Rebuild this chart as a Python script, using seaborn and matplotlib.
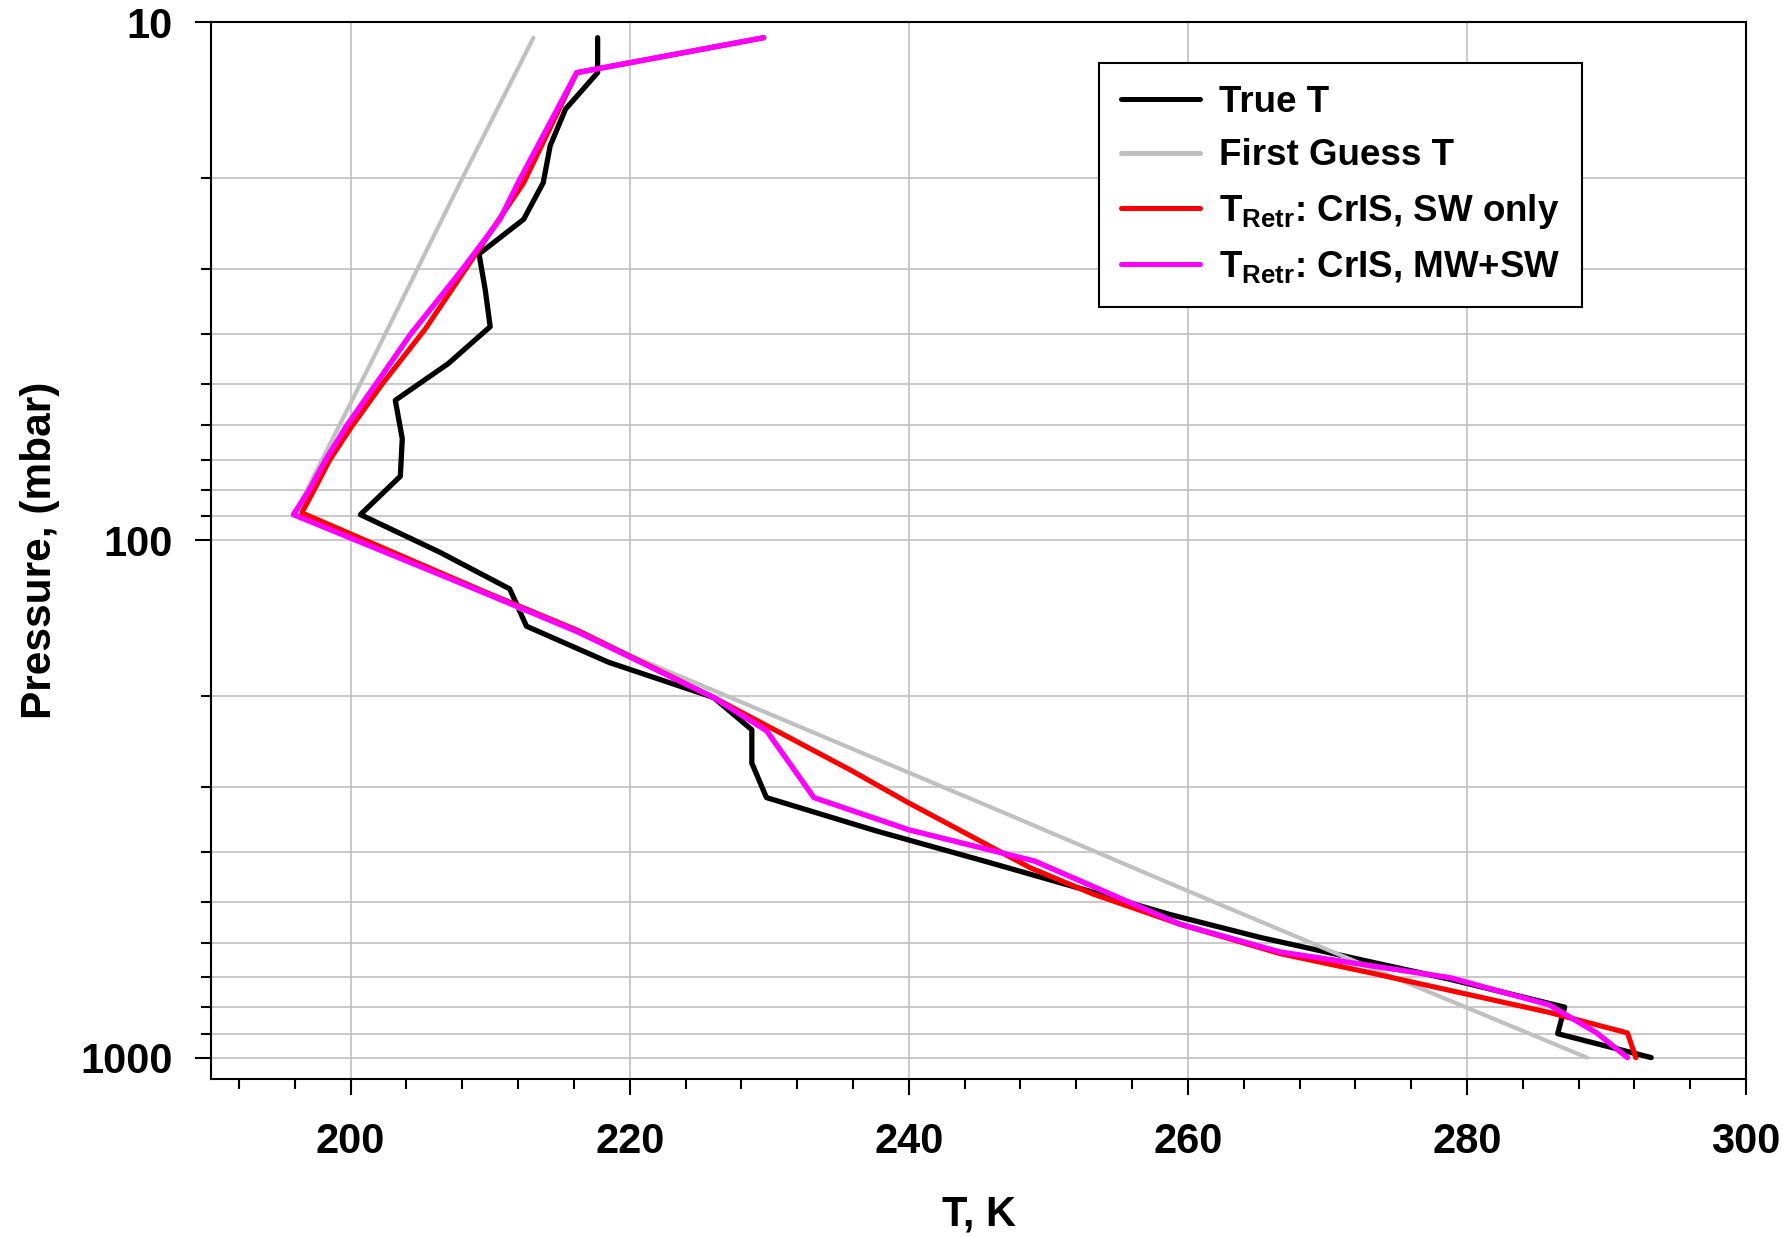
"""Temperature profile retrieval comparison: true, first guess and CrIS retrievals."""

import matplotlib
matplotlib.use("Agg")
import matplotlib.pyplot as plt
import seaborn as sns
from matplotlib.ticker import FixedLocator, NullFormatter


# True temperature profile
TRUE_P = [10.7, 12.5, 14.7, 17.3, 20.4, 24.0, 28.0, 32.9, 38.7, 45.6, 53.7, 63.7, 75.3, 89.3,
          105.6, 124.3, 146.7, 172.3, 201.4, 232.6, 269.8, 314.5, 365.0, 420.0, 473.0, 529.0,
          586.0, 655.0, 706.0, 799.0, 899.0, 1000.0]
TRUE_T = [217.7, 217.7, 215.4, 214.3, 213.8, 212.4, 209.2, 209.65, 210.0, 207.0, 203.2, 203.7,
          203.56, 200.7, 206.4, 211.4, 212.6, 218.5, 226.0, 228.75, 228.75, 229.8, 237.7, 245.8,
          252.5, 258.7, 265.2, 273.3, 278.8, 287.0, 286.5, 293.2]

# First guess
GUESS_P = [10.7, 20.0, 43.0, 89.0, 201.4, 333.6, 476.5, 640.0, 1000.0]
GUESS_T = [213.1, 208.0, 201.9, 196.0, 227.2, 246.5, 260.0, 271.3, 288.6]

# Retrieval, CrIS SW only
SW_P = [10.7, 12.5, 20.4, 39.1, 50.0, 60.2, 70.0, 80.3, 88.6, 125.2, 149.6, 201.4, 278.0,
        321.0, 429.7, 483.0, 552.0, 629.6, 685.0, 818.0, 896.0, 1000.0]
SW_T = [229.6, 216.2, 212.4, 205.35, 202.25, 200.1, 198.5, 197.35, 196.5, 209.4, 216.3, 226.0,
        235.8, 239.9, 248.7, 253.2, 259.4, 266.6, 273.0, 285.9, 291.5, 292.1]

# Retrieval, CrIS MW+SW
MWSW_P = [10.7, 12.5, 20.4, 24.0, 30.0, 40.0, 50.0, 60.2, 70.0, 80.3, 89.3, 125.2, 149.6, 201.4,
          233.5, 314.5, 363.0, 417.0, 552.0, 625.0, 701.0, 791.0, 896.0, 1000.0]
MWSW_T = [229.6, 216.2, 212.0, 210.7, 208.0, 204.3, 201.8, 199.7, 198.2, 197.0, 195.9, 209.2,
          216.1, 226.0, 229.8, 233.2, 240.0, 249.0, 259.4, 266.6, 278.8, 285.9, 289.3, 291.5]

LABELS = ["True T", "First Guess T", "T$_{Retr}$: CrIS, SW only", "T$_{Retr}$: CrIS, MW+SW"]
Y_MAJOR = [10, 100, 1000]
X_MAJOR = [200, 220, 240, 260, 280, 300]


sns.set_theme(style="white")
plt.rcParams["font.family"] = ["Liberation Sans", "DejaVu Sans"]
plt.rcParams["font.weight"] = "bold"
plt.rcParams["axes.labelweight"] = "bold"
plt.rcParams["text.color"] = "black"
plt.rcParams["axes.labelcolor"] = "black"
plt.rcParams["xtick.color"] = "black"
plt.rcParams["ytick.color"] = "black"
plt.rcParams["mathtext.fontset"] = "custom"
plt.rcParams["mathtext.rm"] = "Liberation Sans:bold"
plt.rcParams["mathtext.it"] = "Liberation Sans:bold"
plt.rcParams["mathtext.bf"] = "Liberation Sans:bold"

fig, ax = plt.subplots(figsize=(17.89, 12.36), dpi=100)
fig.subplots_adjust(left=0.118, right=0.976, top=0.9818, bottom=0.127)

series = [
    (TRUE_T, TRUE_P, "#000000", 3.8),
    (GUESS_T, GUESS_P, "#c0c0c0", 3.0),
    (SW_T, SW_P, "#ff0000", 3.7),
    (MWSW_T, MWSW_P, "#ff00ff", 3.9),
]
for (t, p, color, lw), label in zip(series, LABELS):
    sns.lineplot(x=t, y=p, sort=False, estimator=None, color=color, linewidth=lw,
                 label=label, solid_capstyle="round", ax=ax)

ax.set_yscale("log")
ax.set_ylim(1100, 10)
ax.set_xlim(190, 300)

ax.yaxis.set_major_locator(FixedLocator(Y_MAJOR))
ax.set_yticklabels([str(v) for v in Y_MAJOR])
ax.yaxis.set_minor_locator(FixedLocator([20, 30, 40, 50, 60, 70, 80, 90,
                                         200, 300, 400, 500, 600, 700, 800, 900]))
ax.yaxis.set_minor_formatter(NullFormatter())
ax.set_xticks(X_MAJOR)
ax.xaxis.set_minor_locator(FixedLocator(list(range(192, 300, 4))))

ax.set_axisbelow(True)
ax.grid(True, which="major", axis="x", color="#c0c0c0", linewidth=1.2)
ax.grid(True, which="both", axis="y", color="#c0c0c0", linewidth=1.2)

ax.tick_params(which="both", direction="out", color="black", width=1.5,
               bottom=True, left=True, top=False, right=False)
ax.tick_params(which="major", length=11.5, labelsize=30, labelcolor="black")
ax.tick_params(axis="x", which="major", pad=19.5)
ax.tick_params(axis="y", which="major", pad=16)
ax.tick_params(which="minor", length=7)
for spine in ax.spines.values():
    spine.set_color("black")
    spine.set_linewidth(1.5)

ax.set_xlabel("T, K", fontsize=30, fontweight="bold", labelpad=23)
ax.set_ylabel("Pressure, (mbar)", fontsize=30.5, fontweight="bold", labelpad=15)

leg = ax.legend(loc="upper left", bbox_to_anchor=(0.5785, 0.9617), borderaxespad=0,
                frameon=True, fancybox=False, edgecolor="black", framealpha=1,
                prop={"weight": "bold", "size": 26.5}, handlelength=2.15,
                handletextpad=0.5, borderpad=0.6, labelspacing=0.5)
leg.get_frame().set_linewidth(1.5)
for line in leg.get_lines():
    line.set_linewidth(3.6)
    line.set_solid_capstyle("round")
for text in leg.get_texts():
    text.set_color("black")

fig.savefig("out.png", dpi=100)
plt.close(fig)
